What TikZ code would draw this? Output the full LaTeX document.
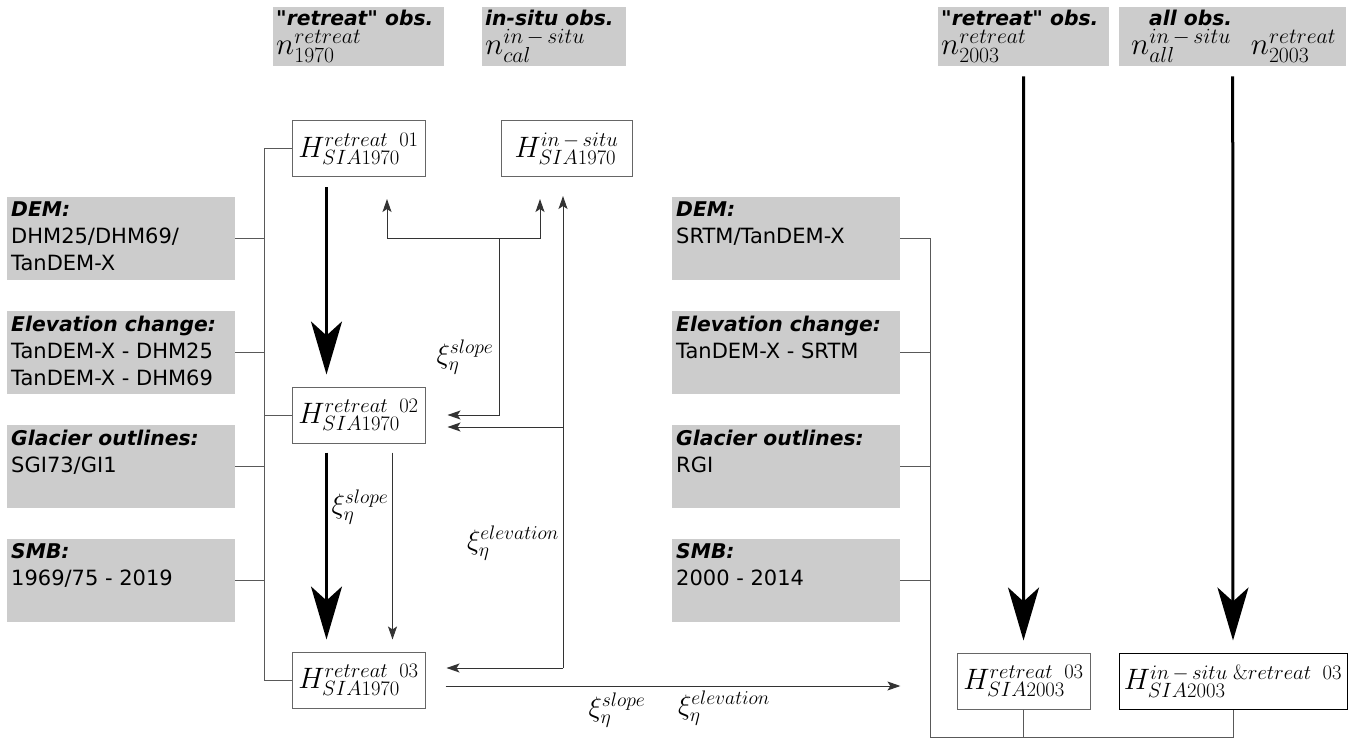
\RequirePackage{fix-cm}
\documentclass[tikz,border=0pt]{standalone}
\usepackage[no-math]{fontspec}
\setmainfont{DejaVu Sans}[Ligatures=TeXOff]
\usetikzlibrary{arrows.meta}

\definecolor{boxgray}{HTML}{CCCCCC}

% text of a grey data box: bold title, then the sources
\newcommand{\infotext}[2]{\begin{minipage}[t][74pt][t]{220pt}\mbox{\fontsize{20.3}{27}\selectfont\bfseries\itshape #1}\\#2\end{minipage}}
% text of an observation header: width, title, formula
\newcommand{\headtext}[3]{\begin{minipage}[t][53pt][t]{#1}\mbox{\fontsize{20.3}{27}\selectfont\bfseries\itshape #2}\\[2pt]{\fontsize{31}{31}\selectfont #3}\end{minipage}}

\tikzset{
  infobox/.style={fill=boxgray, inner xsep=4pt, inner ysep=4.5pt, anchor=north west,
    font=\fontsize{21}{27}\selectfont},
  headbox/.style={fill=boxgray, inner xsep=3pt, inner ysep=3pt, anchor=north west,
    font=\fontsize{21}{27}\selectfont},
  hbox/.style={draw=black!60, line width=1pt, minimum height=56pt, inner sep=2pt,
    font=\fontsize{29.5}{29.5}\selectfont},
  xilabel/.style={inner sep=0pt, font=\fontsize{28}{28}\selectfont},
  busline/.style={draw=black!65, line width=1pt},
  fbarrow/.style={draw=black!80, line width=1pt, -{Stealth[length=13pt,width=9pt,inset=3pt]}},
  bigarrow/.style={line width=3pt, -{Stealth[length=53pt,width=31pt,inset=14pt]}}
}

\begin{document}
\begin{tikzpicture}[x=1pt,y=-1pt]
\useasboundingbox (0,0) rectangle (1352,738);

% observations on top
\node[headbox] (obsRetA) at (273,7) {\headtext{165pt}{"retreat" obs.}{$n^{retreat}_{1970}$}};
\node[headbox] (obsIns) at (482,7) {\headtext{138pt}{in-situ obs.}{$n^{in\,-\,situ}_{cal}$}};
\node[headbox] (obsRetB) at (938,7) {\headtext{165pt}{"retreat" obs.}{$n^{retreat}_{2003}$}};
\node[headbox] (obsAll) at (1119,7) {\headtext{221pt}{\hspace*{27pt}all obs.}{\hspace*{9pt}$n^{in\,-\,situ}_{all}$\hspace{20pt}$n^{retreat}_{2003}$}};

% input data, 1970
\node[infobox] (demL) at (7,197) {\infotext{DEM:}{DHM25/DHM69/\\TanDEM-X}};
\node[infobox] (elevL) at (7,311) {\infotext{Elevation change:}{TanDEM-X - DHM25\\TanDEM-X - DHM69}};
\node[infobox] (outlL) at (7,425) {\infotext{Glacier outlines:}{SGI73/GI1}};
\node[infobox] (smbL) at (7,539) {\infotext{SMB:}{1969/75 - 2019}};

% input data, 2003
\node[infobox] (demR) at (672,197) {\infotext{DEM:}{SRTM/TanDEM-X}};
\node[infobox] (elevR) at (672,311) {\infotext{Elevation change:}{TanDEM-X - SRTM}};
\node[infobox] (outlR) at (672,425) {\infotext{Glacier outlines:}{RGI}};
\node[infobox] (smbR) at (672,539) {\infotext{SMB:}{2000 - 2014}};

% thickness estimates
\node[hbox, minimum width=133pt] (h01) at (358.5,149) {$H^{retreat\;\;01}_{SIA1970}$};
\node[hbox, minimum width=131pt] (hIns) at (566.5,149) {$H^{in\,-\,situ}_{SIA1970}$};
\node[hbox, minimum width=133pt] (h02) at (358.5,415) {$H^{retreat\;\;02}_{SIA1970}$};
\node[hbox, minimum width=133pt] (h03) at (358.5,680) {$H^{retreat\;\;03}_{SIA1970}$};
\node[hbox, minimum width=133pt] (h03R) at (1023.5,681) {$H^{retreat\;\;03}_{SIA2003}$};
\node[hbox, draw=black, minimum width=228pt] (hAll) at (1233,681) {$H^{in\,-\,situ\;\&retreat\;\;03}_{SIA2003}$};

% correction factors
\node[xilabel] (xiSlopeA) at (360,507) {$\xi^{slope}_{\eta}$};
\node[xilabel] (xiSlopeB) at (465,357) {$\xi^{slope}_{\eta}$};
\node[xilabel] (xiElevA) at (513,543) {$\xi^{elevation}_{\eta}$};
\node[xilabel] (xiSlopeC) at (617,710) {$\xi^{slope}_{\eta}$};
\node[xilabel] (xiElevB) at (724,708) {$\xi^{elevation}_{\eta}$};

% bus lines from the data boxes
\coordinate (busL) at (264,0);
\coordinate (busRB) at (930,737);
\draw[busline] (h01.west) -- (h01.west -| busL) -- (h03.west -| busL) -- (h03.west);
\draw[busline] (h02.west) -- (h02.west -| busL);
\foreach \b in {demL,elevL,outlL,smbL}
  \draw[busline] (\b.east) -- (\b.east -| busL);
\draw[busline] (demR.east) -| (busRB) -- (busRB -| hAll.south) -- (hAll.south);
\draw[busline] (h03R.south) -- (h03R.south |- busRB);
\foreach \b in {elevR,outlR,smbR}
  \draw[busline] (\b.east) -- (\b.east -| busRB);

% main steps
\draw[bigarrow] ([xshift=-32pt,yshift=-10pt]h01.south) -- ([xshift=-32pt,yshift=12pt]h02.north);
\draw[bigarrow] ([xshift=-32pt,yshift=-9pt]h02.south) -- ([xshift=-32pt,yshift=12pt]h03.north);
\draw[fbarrow] ([xshift=34pt,yshift=-9pt]h02.south) -- ([xshift=34pt,yshift=12pt]h03.north);
\draw[bigarrow] ([yshift=-10pt]obsRetB.south) -- ([yshift=12pt]h03R.north);
\draw[bigarrow] ([yshift=-10pt]obsAll.south) -- ([yshift=12pt]hAll.north);

% feedback of the factors
\coordinate (tipA) at (387,199);
\coordinate (tipB) at (540,199);
\coordinate (tipC) at (563,196);
\coordinate (fbSplit) at (499,239);
\draw[fbarrow] (fbSplit) -| (tipA);
\draw[fbarrow] (fbSplit) -| (tipB);
\draw[fbarrow] (fbSplit) |- ([xshift=22pt]h02.east);
\coordinate (fbMid) at ([xshift=22pt,yshift=-12pt]h02.east);
\coordinate (elevFoot) at ([xshift=21pt,yshift=12pt]h03.east);
\draw[fbarrow] (elevFoot -| tipC) -- (tipC);
\draw[fbarrow] (elevFoot -| tipC) -- (elevFoot);
\draw[fbarrow] (fbMid -| tipC) -- (fbMid);
\coordinate (trans) at ([xshift=20pt,yshift=-6pt]h03.east);
\draw[fbarrow] (trans) -- (trans -| smbR.east);
\end{tikzpicture}
\end{document}
